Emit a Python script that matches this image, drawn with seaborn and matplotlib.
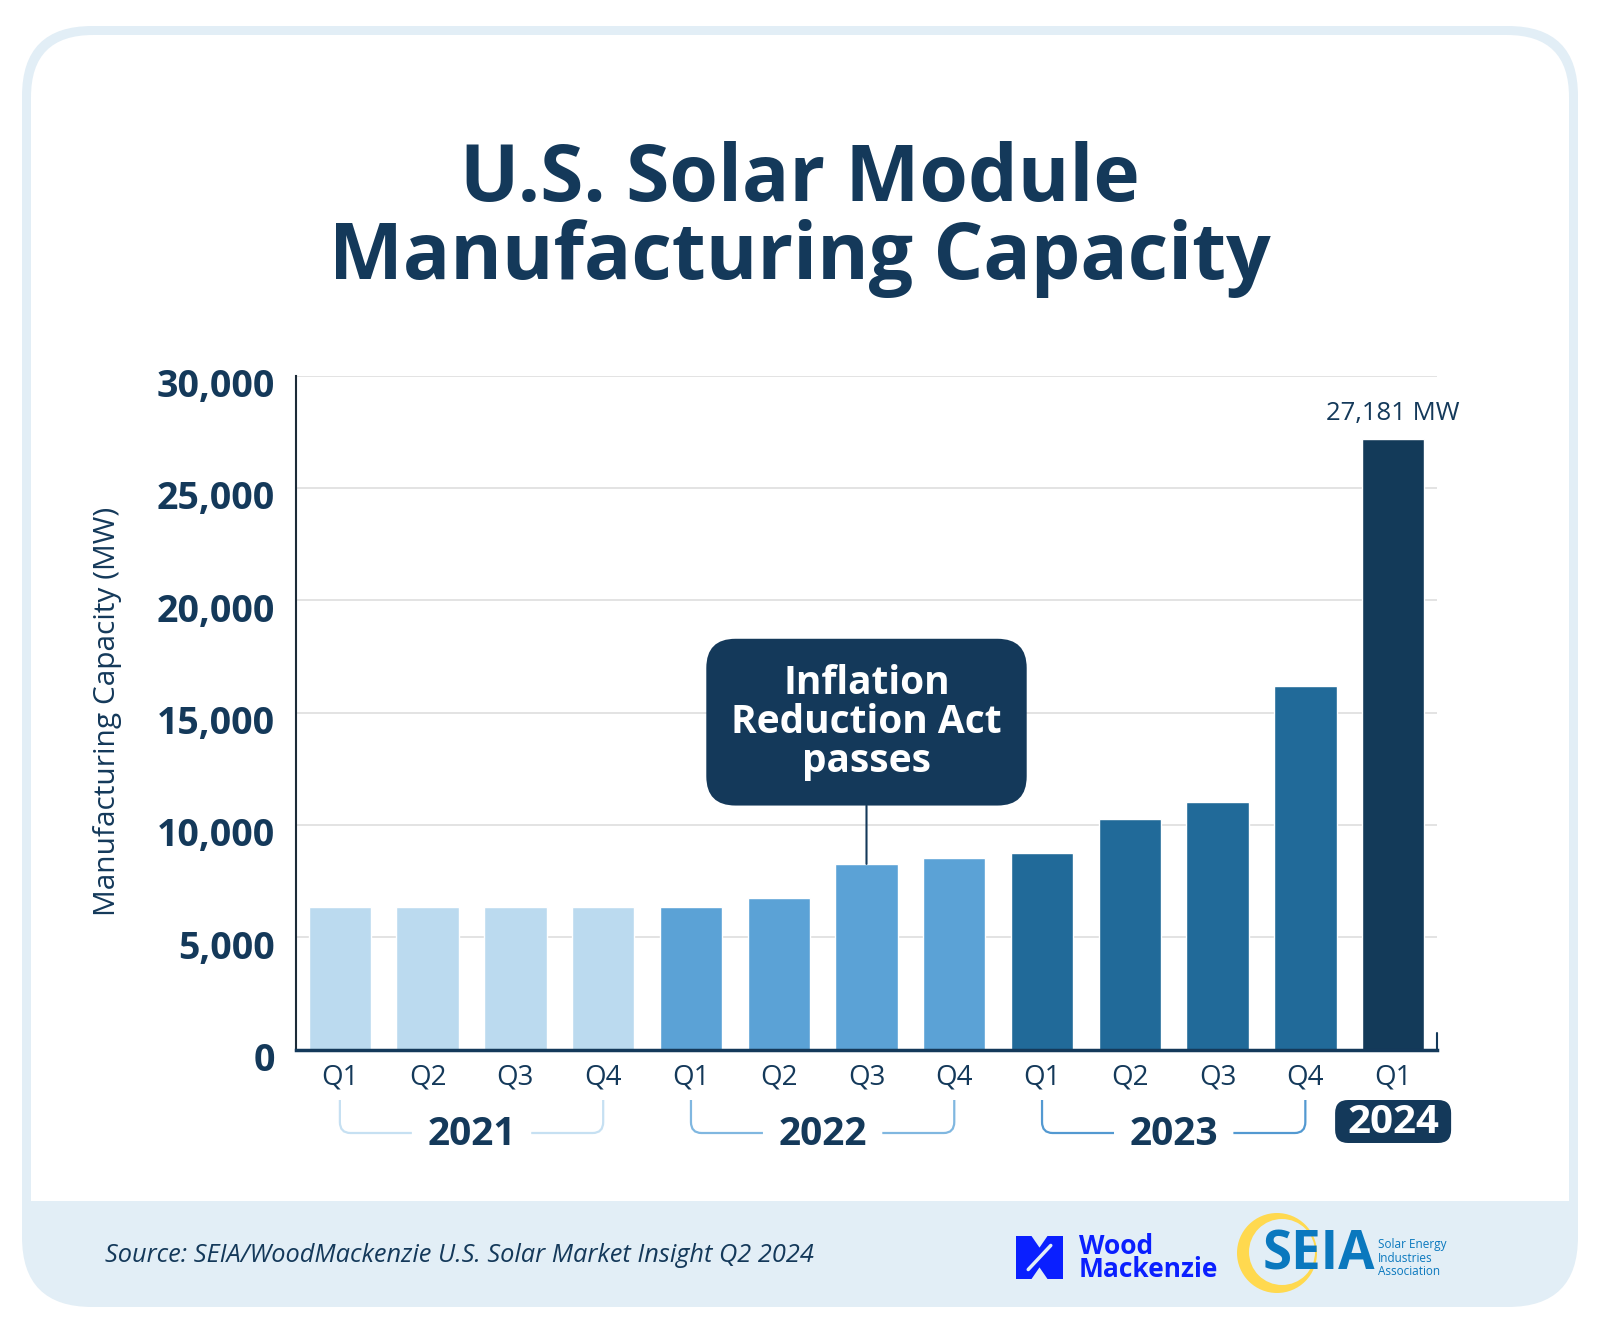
import numpy as np
import pandas as pd
import seaborn as sns
from matplotlib import pyplot as plt
from matplotlib import patches, transforms
from matplotlib.path import Path

# Data
years = ["2021"] * 4 + ["2022"] * 4 + ["2023"] * 4 + ["2024"]
quarters = ["Q1", "Q2", "Q3", "Q4"] * 3 + ["Q1"]
capacity_mw = [6330, 6330, 6330, 6330, 6330, 6750, 8260, 8540, 8740,
               10280, 11020, 16170, 27181]
y_ticks = [0, 5000, 10000, 15000, 20000, 25000, 30000]

year_colors = {"2021": "#bbdaef", "2022": "#5ba2d6", "2023": "#216a99", "2024": "#133a59"}
bracket_colors = {"2021": "#c6e0f2", "2022": "#80b7e0", "2023": "#5399d1"}

title_lines = ["U.S. Solar Module", "Manufacturing Capacity"]
y_label = "Manufacturing Capacity (MW)"
ira_text = "Inflation\nReduction Act\npasses"
ira_period = "2022 Q3"
source_text = "Source: SEIA/WoodMackenzie U.S. Solar Market Insight Q2 2024"

NAVY = "#14395a"
PALE = "#e2eef6"
W, H = 1600, 1333

sns.set_theme(style="white")
plt.rcParams["font.family"] = ["Open Sans", "DejaVu Sans"]

df = pd.DataFrame({"year": years, "quarter": quarters, "capacity": capacity_mw})
df["period"] = df["year"] + " " + df["quarter"]

fig = plt.figure(figsize=(W / 100, H / 100), dpi=100)
fig.patch.set_facecolor("white")
pix = transforms.IdentityTransform()


def fy(y):
    # pixel row measured from the top -> display y
    return H - y


# Card frame: pale border + footer band, white body
fig.add_artist(patches.FancyBboxPatch((22, fy(1307)), 1556, 1281,
                                      boxstyle="round,pad=0,rounding_size=70",
                                      transform=pix, fc=PALE, ec="none", zorder=-10))
fig.add_artist(patches.FancyBboxPatch((31, fy(1201)), 1538, 1166,
                                      boxstyle="round,pad=0,rounding_size=62",
                                      transform=pix, fc="white", ec="none", zorder=-9))
fig.add_artist(patches.Rectangle((31, fy(1201)), 1538, 300,
                                 transform=pix, fc="white", ec="none", zorder=-9))

# Title
for i, line in enumerate(title_lines):
    fig.text(0.5, fy(181 + 77 * i) / H, line, ha="center", va="center",
             fontsize=56.5, fontweight="bold", color=NAVY)

# Axes
ax = fig.add_axes([296 / W, fy(1049.5) / H, 1141 / W, 674 / H])
ax.patch.set_alpha(0)
sns.barplot(data=df, x="period", y="capacity", hue="year", palette=year_colors,
            dodge=False, width=0.71, saturation=1, legend=False, ax=ax, zorder=2)

ax.set_xlim(-0.5, len(df) - 0.5)
ax.set_ylim(y_ticks[0], y_ticks[-1])
ax.set_xlabel("")
ax.set_ylabel("")
ax.set_xticks(range(len(df)))
ax.set_xticklabels(quarters, fontsize=20, color=NAVY)
ax.set_yticks(y_ticks)
ax.set_yticklabels([f"{v:,}" for v in y_ticks], fontsize=27, fontweight="bold", color=NAVY)
ax.tick_params(axis="x", length=0, pad=10)
ax.tick_params(axis="y", direction="in", length=18, width=1.5, color="#2d4f6e", pad=15)
# the tick numbers sit a little below their ticks in the original
shift = transforms.ScaledTranslation(0, -5 / 72, fig.dpi_scale_trans)
for lab in ax.get_yticklabels():
    lab.set_transform(lab.get_transform() + shift)
ax.yaxis.grid(True, color="#dedede", lw=1.2)
ax.set_axisbelow(True)
sns.despine(ax=ax)
ax.spines["left"].set_color("#1c2b38")
ax.spines["left"].set_linewidth(1.5)
ax.spines["bottom"].set_color(NAVY)
ax.spines["bottom"].set_linewidth(2.5)
ax.axvline(ax.get_xlim()[1], ymax=0.024, color=NAVY, lw=1.5, clip_on=False)

fig.text(108 / W, fy(711) / H, y_label, rotation=90, ha="center", va="center",
         fontsize=21.5, color=NAVY)

# Value label on the latest bar
ax.annotate(f"{capacity_mw[-1]:,} MW", xy=(len(df) - 1, capacity_mw[-1]),
            xytext=(0, 9), textcoords="offset points", ha="center", va="bottom",
            fontsize=18.5, color=NAVY)

# IRA callout
ira_idx = df.index[df["period"] == ira_period][0]
ax.annotate(ira_text, xy=(ira_idx, df.loc[ira_idx, "capacity"]), xytext=(ira_idx, 14570),
            ha="center", va="center", fontsize=28, fontweight="bold", color="white",
            linespacing=1.0,
            bbox=dict(boxstyle="round,pad=0.64,rounding_size=0.75", fc=NAVY, ec="none"),
            arrowprops=dict(arrowstyle="-", color=NAVY, lw=1.5, shrinkA=0, shrinkB=0),
            zorder=5)

# Year brackets under the quarter labels
per_px = (y_ticks[-1] - y_ticks[0]) / 674.0
y_top, y_bot, y_lab = -50.5 * per_px, -83.5 * per_px, -85 * per_px
rx, ry = 0.12, 11 * per_px
for yr, grp in df.groupby("year"):
    pos = grp.index.to_numpy()
    mid = pos.mean()
    if yr in bracket_colors:
        x0, x1 = pos.min(), pos.max()
        verts = [(x0, y_top), (x0, y_bot + ry), (x0, y_bot), (x0 + rx, y_bot), (mid - 0.68, y_bot),
                 (mid + 0.68, y_bot), (x1 - rx, y_bot), (x1, y_bot), (x1, y_bot + ry), (x1, y_top)]
        codes = [Path.MOVETO, Path.LINETO, Path.CURVE3, Path.CURVE3, Path.LINETO,
                 Path.MOVETO, Path.LINETO, Path.CURVE3, Path.CURVE3, Path.LINETO]
        ax.add_patch(patches.PathPatch(Path(verts, codes), fc="none", ec=bracket_colors[yr],
                                       lw=1.6, clip_on=False))
        ax.text(mid, y_lab, yr, ha="center", va="center", fontsize=28, fontweight="bold",
                color=NAVY, clip_on=False)
    else:
        # rounded navy tag for the latest year, drawn in pixels behind the axes
        cx, cy = ax.transData.transform((mid, -72 * per_px))
        fig.add_artist(patches.FancyBboxPatch((cx - 58, cy - 21.5), 116, 43,
                                              boxstyle="round,pad=0,rounding_size=13",
                                              transform=pix, fc=NAVY, ec="none", zorder=-1))
        ax.text(mid, -73 * per_px, yr, ha="center", va="center", fontsize=29,
                fontweight="bold", color="white", clip_on=False, zorder=6)

# Footer
fig.text(105 / W, fy(1255) / H, source_text, ha="left", va="center", fontsize=18.3,
         style="italic", color=NAVY)

wm = np.array([(0, 0), (0.33, 0), (0.5, 0.27), (0.67, 0), (1, 0), (1, 1),
               (0.67, 1), (0.5, 0.73), (0.33, 1), (0, 1)])
fig.add_artist(patches.Polygon(np.column_stack([1016 + 47 * wm[:, 0], fy(1236 + 43 * wm[:, 1])]),
                               transform=pix, fc="#0a1fff", ec="none"))
fig.add_artist(plt.Line2D([1016 + 47 * 0.74, 1016 + 47 * 0.26], [fy(1236 + 43 * 0.22), fy(1236 + 43 * 0.78)],
                          transform=pix, color=PALE, lw=2.5))
fig.text(1079 / W, fy(1258) / H, "Wood\nMackenzie", ha="left", va="center", fontsize=19,
         fontweight="bold", color="#0a1fff", linespacing=0.85)

fig.add_artist(patches.Circle((1277, fy(1253)), 40, transform=pix, fc="#ffd94f", ec="none"))
fig.add_artist(patches.Circle((1282, fy(1252)), 33, transform=pix, fc=PALE, ec="none"))
fig.text(1263 / W, fy(1256) / H, "SEIA", ha="left", va="center", fontsize=38,
         fontweight="bold", color="#0a78be")
fig.text(1378 / W, fy(1258) / H, "Solar Energy\nIndustries\nAssociation", ha="left",
         va="center", fontsize=8.5, color="#0a78be", linespacing=1.05)

fig.savefig("out.png", dpi=100)
